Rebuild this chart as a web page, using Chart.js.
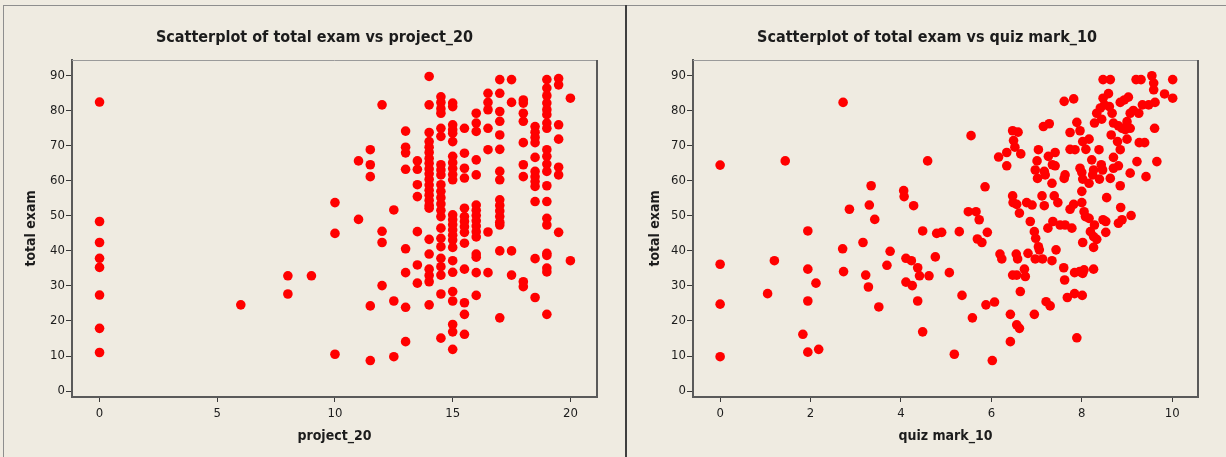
<!DOCTYPE html>
<html>
<head>
<meta charset="utf-8">
<script src="https://cdn.jsdelivr.net/npm/chart.js@4.4.0/dist/chart.umd.min.js"></script>
<style>
  html, body { margin: 0; padding: 0; background: #efebe1; }
  body { width: 1226px; height: 457px; position: relative; overflow: hidden; }
  .rule { position: absolute; }
  #ruleTop { left: 3px; top: 5px; width: 1223px; height: 1px; background: #8e8e8e; }
  #ruleLeft { left: 3px; top: 5px; width: 1px; height: 452px; background: #8e8e8e; }
  #ruleMid { left: 625px; top: 5px; width: 2px; height: 452px; background: #3f3f3f; }
  .panel { position: absolute; top: 0; height: 457px; }
  #panelLeft { left: 4px; width: 621px; }
  #panelRight { left: 628px; width: 598px; }
</style>
</head>
<body>
<div class="rule" id="ruleTop"></div>
<div class="rule" id="ruleLeft"></div>
<div class="rule" id="ruleMid"></div>
<div class="panel" id="panelLeft"><canvas id="chartProject" width="621" height="457"></canvas></div>
<div class="panel" id="panelRight"><canvas id="chartQuiz" width="598" height="457"></canvas></div>
<script>
  // tick labels
  const examTicks = [0, 10, 20, 30, 40, 50, 60, 70, 80, 90];
  const projectTicks = [0, 5, 10, 15, 20];
  const quizTicks = [0, 2, 4, 6, 8, 10];

  // [project_20, total exam]
  const projectPoints = [
    [0, 82.5], [0, 48.4], [0, 42.4], [0, 37.9], [0, 35.3], [0, 27.4], [0, 17.9], [0, 11.0],
    [6, 24.6], [8, 32.9], [8, 27.7], [9, 32.9],
    [10, 53.8], [10, 45.0], [10, 10.5],
    [11, 65.7], [11, 49.0],
    [11.5, 68.9], [11.5, 64.6], [11.5, 61.2], [11.5, 24.3], [11.5, 8.7],
    [12, 81.7], [12, 45.6], [12, 42.4], [12, 30.1],
    [12.5, 51.7], [12.5, 25.7], [12.5, 9.8],
    [13, 74.2], [13, 69.6], [13, 68.0], [13, 63.3], [13, 40.6], [13, 33.8], [13, 23.9], [13, 14.1],
    [13.5, 65.7], [13.5, 63.3], [13.5, 58.9], [13.5, 55.5], [13.5, 45.5], [13.5, 36.0], [13.5, 30.8],
    [14, 89.8], [14, 81.7], [14, 73.8], [14, 71.2], [14, 69.6], [14, 68.1], [14, 66.4], [14, 65.0],
    [14, 63.4], [14, 62.0], [14, 60.4], [14, 58.8], [14, 57.3], [14, 55.9], [14, 54.4], [14, 53.0],
    [14, 52.2], [14, 43.3], [14, 39.1], [14, 34.8], [14, 33.0], [14, 31.2], [14, 24.6],
    [14.5, 84.0], [14.5, 82.4], [14.5, 80.6], [14.5, 79.3], [14.5, 75.0], [14.5, 72.7], [14.5, 64.6],
    [14.5, 63.1], [14.5, 61.7], [14.5, 58.9], [14.5, 57.0], [14.5, 55.2], [14.5, 53.4], [14.5, 51.6],
    [14.5, 49.8], [14.5, 46.5], [14.5, 43.6], [14.5, 41.2], [14.5, 37.9], [14.5, 35.5], [14.5, 33.1],
    [14.5, 27.7], [14.5, 15.1],
    [15, 82.2], [15, 81.2], [15, 76.0], [15, 74.6], [15, 73.6], [15, 71.2], [15, 67.0], [15, 65.2],
    [15, 63.5], [15, 61.8], [15, 60.3], [15, 50.3], [15, 48.9], [15, 47.5], [15, 46.0], [15, 44.5],
    [15, 43.1], [15, 41.0], [15, 37.2], [15, 33.9], [15, 28.4], [15, 25.7], [15, 19.0], [15, 16.9], [15, 11.9],
    [15.5, 75.0], [15.5, 67.9], [15.5, 63.6], [15.5, 60.8], [15.5, 52.2], [15.5, 49.8], [15.5, 48.4],
    [15.5, 46.9], [15.5, 45.3], [15.5, 42.2], [15.5, 34.8], [15.5, 25.2], [15.5, 21.9], [15.5, 16.2],
    [16, 79.3], [16, 76.5], [16, 74.1], [16, 66.0], [16, 61.7], [16, 53.1], [16, 51.6], [16, 50.1],
    [16, 48.6], [16, 47.1], [16, 45.5], [16, 44.0], [16, 39.1], [16, 38.2], [16, 33.8], [16, 27.3],
    [16.5, 85.0], [16.5, 82.4], [16.5, 80.3], [16.5, 75.0], [16.5, 68.9], [16.5, 45.4], [16.5, 33.8],
    [17, 88.9], [17, 85.0], [17, 79.8], [17, 77.0], [17, 73.1], [17, 69.0], [17, 62.7], [17, 60.3],
    [17, 54.6], [17, 53.0], [17, 51.4], [17, 49.8], [17, 48.2], [17, 47.4], [17, 40.0], [17, 20.9],
    [17.5, 88.9], [17.5, 82.4], [17.5, 40.0], [17.5, 33.1],
    [18, 83.1], [18, 82.2], [18, 79.3], [18, 77.0], [18, 70.9], [18, 64.6], [18, 61.2], [18, 31.2], [18, 29.8],
    [18.5, 75.5], [18.5, 73.9], [18.5, 72.4], [18.5, 70.9], [18.5, 66.7], [18.5, 62.7], [18.5, 61.2],
    [18.5, 59.8], [18.5, 58.4], [18.5, 54.1], [18.5, 37.8], [18.5, 26.7],
    [19, 88.9], [19, 86.5], [19, 84.3], [19, 82.2], [19, 80.3], [19, 78.9], [19, 76.5], [19, 75.0],
    [19, 68.9], [19, 67.0], [19, 64.8], [19, 62.7], [19, 58.6], [19, 54.1], [19, 49.3], [19, 47.4],
    [19, 39.3], [19, 38.7], [19, 35.1], [19, 34.0], [19, 21.9],
    [19.5, 89.2], [19.5, 87.4], [19.5, 76.0], [19.5, 71.9], [19.5, 63.9], [19.5, 61.7], [19.5, 45.3],
    [20, 83.6], [20, 37.2]
  ];

  // [quiz mark_10, total exam]
  const quizPoints = [
    [0, 64.5], [0, 36.2], [0, 24.8], [0, 9.8],
    [1.05, 27.8], [1.2, 37.2], [1.44, 65.7],
    [1.83, 16.2], [1.94, 45.7], [1.94, 34.8], [1.94, 25.7], [1.94, 11.1], [2.12, 30.8], [2.18, 11.9],
    [2.71, 40.6], [2.72, 82.4], [2.73, 34.1], [2.86, 51.9],
    [3.16, 42.4], [3.22, 33.1], [3.28, 29.7], [3.3, 53.1], [3.34, 58.6], [3.42, 49.0], [3.51, 24.0],
    [3.69, 35.9], [3.76, 39.9],
    [4.06, 57.2], [4.07, 55.5], [4.11, 37.9], [4.11, 31.1], [4.23, 37.2], [4.25, 30.1], [4.28, 52.9],
    [4.37, 35.2], [4.37, 25.7], [4.41, 32.9], [4.48, 45.7], [4.48, 16.9], [4.59, 65.7], [4.62, 32.9],
    [4.76, 38.3], [4.79, 45.0], [4.9, 45.3],
    [5.07, 33.8], [5.18, 10.5], [5.29, 45.5], [5.35, 27.3], [5.49, 51.2], [5.55, 72.9], [5.58, 20.9],
    [5.66, 51.2], [5.69, 43.4], [5.73, 48.9], [5.79, 42.4], [5.86, 58.3], [5.88, 24.6], [5.91, 45.3],
    [6.02, 8.7], [6.07, 25.4], [6.16, 66.8], [6.19, 39.1], [6.23, 37.7], [6.34, 68.1], [6.34, 64.3],
    [6.42, 21.9], [6.42, 14.1], [6.47, 74.3], [6.47, 55.7], [6.47, 33.1], [6.48, 53.8], [6.49, 71.5],
    [6.52, 69.6], [6.55, 39.1], [6.56, 53.3], [6.56, 33.1], [6.56, 18.9], [6.58, 37.7], [6.59, 73.9],
    [6.62, 50.8], [6.62, 17.9], [6.64, 28.4], [6.65, 67.7], [6.73, 34.8], [6.75, 32.7], [6.78, 53.8],
    [6.81, 39.3], [6.86, 48.4], [6.9, 53.1], [6.95, 45.5], [6.95, 21.9], [6.97, 63.1], [6.97, 37.7], [6.98, 43.6],
    [7.01, 65.7], [7.02, 60.7], [7.04, 68.9], [7.04, 41.2], [7.06, 40.3], [7.12, 55.7], [7.13, 37.7],
    [7.15, 75.5], [7.17, 62.7], [7.17, 52.9], [7.19, 61.7], [7.21, 25.5], [7.25, 46.5], [7.26, 67.0],
    [7.28, 76.3], [7.3, 24.3], [7.34, 59.3], [7.34, 37.2], [7.35, 64.6], [7.36, 48.4], [7.39, 55.7],
    [7.41, 68.1], [7.41, 64.3], [7.43, 40.3], [7.47, 53.8], [7.52, 47.4], [7.6, 35.2], [7.61, 82.7],
    [7.61, 60.7], [7.62, 31.7], [7.63, 61.7], [7.63, 47.4], [7.68, 26.7], [7.74, 73.8], [7.74, 69.0],
    [7.74, 51.9], [7.78, 46.5], [7.82, 83.4], [7.82, 53.3], [7.84, 33.8], [7.84, 27.8], [7.85, 68.9],
    [7.89, 76.7], [7.89, 15.2], [7.95, 34.1], [7.96, 74.3], [7.96, 63.6],
    [8.0, 62.4], [8.0, 57.0], [8.0, 53.8], [8.01, 27.3], [8.02, 71.2], [8.02, 60.5], [8.02, 42.4],
    [8.02, 33.6], [8.05, 51.2], [8.05, 34.6], [8.08, 49.8], [8.09, 69.0], [8.16, 71.9], [8.16, 59.3],
    [8.16, 49.3], [8.19, 45.5], [8.22, 66.0], [8.24, 61.7], [8.26, 63.1], [8.26, 44.1], [8.26, 41.0],
    [8.26, 34.8], [8.28, 76.5], [8.28, 47.4], [8.33, 79.3], [8.33, 43.3], [8.38, 68.9], [8.39, 60.5],
    [8.41, 80.8], [8.43, 64.6], [8.44, 77.6], [8.46, 63.1], [8.47, 88.9], [8.47, 83.6], [8.47, 48.9],
    [8.5, 81.7], [8.53, 48.4], [8.53, 45.3], [8.55, 55.2], [8.59, 84.9], [8.61, 81.2], [8.63, 88.9],
    [8.63, 60.7], [8.65, 73.1], [8.67, 79.3], [8.7, 76.5], [8.7, 66.7], [8.7, 63.6], [8.79, 71.2],
    [8.81, 75.7], [8.81, 64.3], [8.81, 47.9], [8.85, 82.4], [8.85, 68.9], [8.85, 58.6], [8.86, 52.4],
    [8.89, 75.0], [8.89, 48.9], [8.94, 83.1], [8.96, 74.6],
    [9.0, 76.9], [9.0, 71.9], [9.03, 83.9], [9.07, 79.3], [9.07, 75.0], [9.07, 62.2], [9.09, 50.1],
    [9.14, 80.1], [9.2, 88.9], [9.22, 65.5], [9.26, 79.3], [9.27, 70.9], [9.31, 88.9], [9.34, 81.7],
    [9.39, 70.9], [9.42, 61.2], [9.48, 81.7], [9.55, 90.0], [9.59, 87.9], [9.59, 86.0], [9.61, 75.0],
    [9.62, 82.4], [9.66, 65.5], [9.83, 84.8], [10.01, 88.9], [10.01, 83.6]
  ];

  const FONT = "'DejaVu Sans Condensed', 'DejaVu Sans', sans-serif";
  const INK = "#1c1c1c";

  // top and right edges of the plot frame
  const frameEdges = {
    id: "frameEdges",
    afterDraw(chart) {
      const { ctx, chartArea: a } = chart;
      ctx.save();
      ctx.strokeStyle = "#9a9a9a";
      ctx.lineWidth = 1;
      ctx.beginPath();
      ctx.moveTo(a.left, a.top + 0.5);
      ctx.lineTo(a.right, a.top + 0.5);
      ctx.stroke();
      ctx.strokeStyle = "#5a5a5a";
      ctx.lineWidth = 2;
      ctx.beginPath();
      ctx.moveTo(a.right, a.top);
      ctx.lineTo(a.right, a.bottom);
      ctx.stroke();
      ctx.restore();
    },
  };

  function scatterConfig(points, opts) {
    return {
      type: "scatter",
      data: {
        datasets: [{
          data: points.map((p) => ({ x: p[0], y: p[1] })),
          xAxisID: "x",
          yAxisID: "y",
          backgroundColor: "#ff0000",
          borderColor: "#ff0000",
          borderWidth: 0,
          pointRadius: 4.8,
          pointHoverRadius: 4.8,
        }],
      },
      options: {
        responsive: false,
        animation: false,
        layout: { padding: 0 },
        plugins: {
          legend: { display: false },
          tooltip: { enabled: false },
          title: {
            display: true,
            text: opts.title,
            color: INK,
            font: { family: FONT, size: 16, weight: "bold" },
            padding: { top: 28, bottom: 12.8 },
          },
        },
        scales: {
          x: {
            type: "linear",
            min: opts.xMin,
            max: opts.xMax,
            afterBuildTicks: (s) => { s.ticks = opts.xTicks.map((v) => ({ value: v })); },
            afterFit: (s) => { s.height = 60; },
            ticks: { color: INK, font: { family: FONT, size: 13 }, padding: 4, maxRotation: 0 },
            grid: { display: true, drawOnChartArea: false, drawTicks: true, tickLength: 5, color: "#3a3a3a" },
            border: { display: true, color: "#5a5a5a", width: 2 },
            title: {
              display: true,
              text: opts.xTitle,
              color: INK,
              font: { family: FONT, size: 14, weight: "bold" },
              padding: { top: 0, bottom: 12.6 },
            },
          },
          y: {
            type: "linear",
            min: -1.7,
            max: 94.5,
            afterBuildTicks: (s) => { s.ticks = examTicks.map((v) => ({ value: v })); },
            afterFit: (s) => { s.width = opts.yWidth; },
            ticks: { color: INK, font: { family: FONT, size: 13 }, padding: 1 },
            grid: { display: true, drawOnChartArea: false, drawTicks: true, tickLength: 6, color: "#3a3a3a" },
            border: { display: true, color: "#5a5a5a", width: 2 },
            title: {
              display: true,
              text: "total exam",
              color: INK,
              font: { family: FONT, size: 14, weight: "bold" },
              padding: { top: 18.6, bottom: 0 },
            },
          },
          // empty strip on the right so the title stays centred on the whole panel
          gutter: {
            type: "linear",
            position: "right",
            min: 0,
            max: 1,
            afterFit: (s) => { s.width = opts.padRight; },
            ticks: { display: false },
            grid: { display: false },
            border: { display: false },
          },
        },
      },
      plugins: [frameEdges],
    };
  }

  new Chart(document.getElementById("chartProject"), scatterConfig(projectPoints, {
    title: "Scatterplot of total exam vs project_20",
    xTitle: "project_20",
    xTicks: projectTicks,
    xMin: -1.17,
    xMax: 21.13,
    yWidth: 68,
    padRight: 28,
  }));

  new Chart(document.getElementById("chartQuiz"), scatterConfig(quizPoints, {
    title: "Scatterplot of total exam vs quiz mark_10",
    xTitle: "quiz mark_10",
    xTicks: quizTicks,
    xMin: -0.6,
    xMax: 10.57,
    yWidth: 65,
    padRight: 28,
  }));
</script>
</body>
</html>
